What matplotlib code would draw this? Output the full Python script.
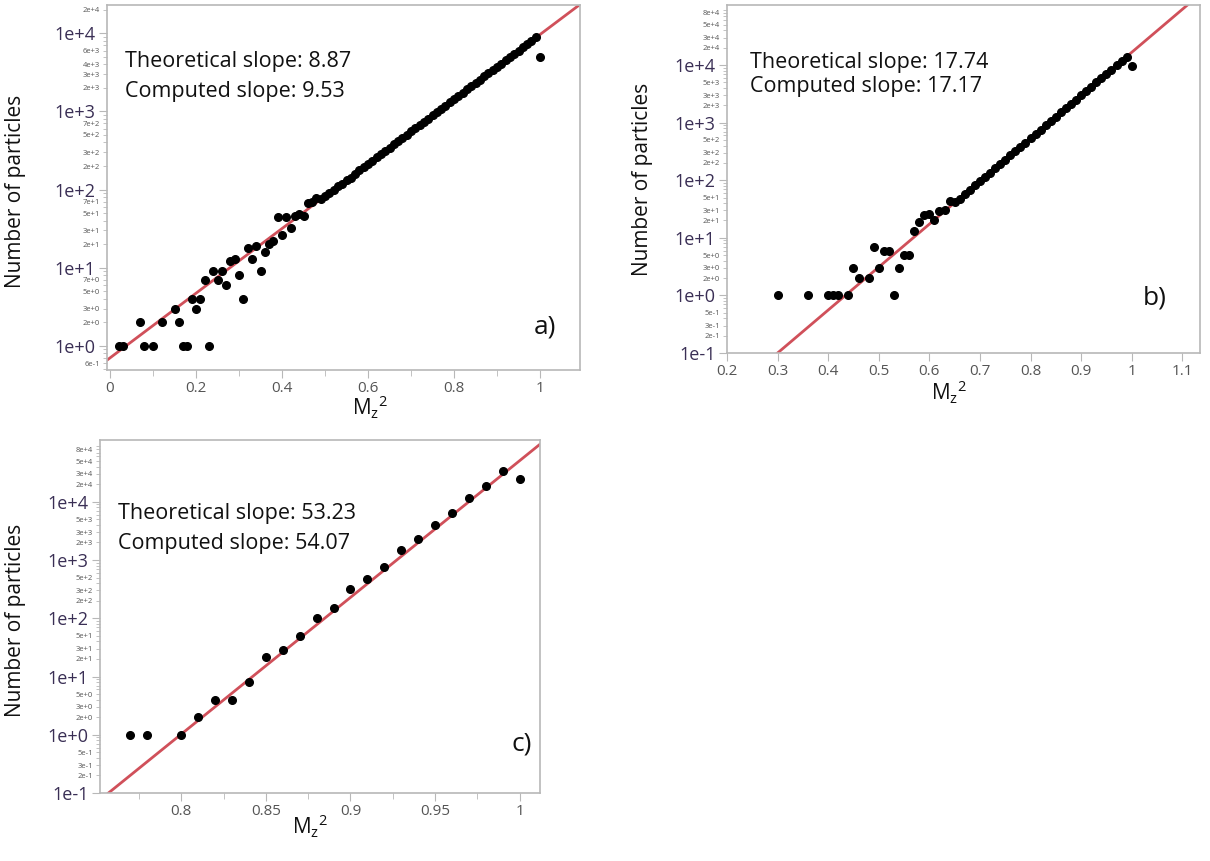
import numpy as np
import matplotlib
matplotlib.use("Agg")
import matplotlib.pyplot as plt
from matplotlib.ticker import FixedLocator, FuncFormatter

plt.rcParams["font.family"] = ["Open Sans", "DejaVu Sans"]

# ---- panel a) data ----
a_x = [0.02, 0.03, 0.07, 0.08, 0.10, 0.12, 0.15, 0.16, 0.17, 0.18, 0.19, 0.20,
       0.21, 0.22, 0.23, 0.24, 0.25, 0.26, 0.27, 0.28, 0.29, 0.30, 0.31, 0.32,
       0.33, 0.34, 0.35, 0.36, 0.37, 0.38, 0.39, 0.40, 0.41, 0.42, 0.43, 0.44,
       0.45, 0.46, 0.47, 0.48, 0.49, 0.50, 0.51, 0.52, 0.53, 0.54, 0.55, 0.56,
       0.57, 0.58, 0.59, 0.60, 0.61, 0.62, 0.63, 0.64, 0.65, 0.66, 0.67, 0.68,
       0.69, 0.70, 0.71, 0.72, 0.73, 0.74, 0.75, 0.76, 0.77, 0.78, 0.79, 0.80,
       0.81, 0.82, 0.83, 0.84, 0.85, 0.86, 0.87, 0.88, 0.89, 0.90, 0.91, 0.92,
       0.93, 0.94, 0.95, 0.96, 0.97, 0.98, 0.99, 1.00]
a_n = [1, 1, 2, 1, 1, 2, 3, 2, 1, 1, 4, 3,
       4, 7, 1, 9, 7, 9, 6, 12, 13, 8, 4, 18,
       13, 19, 9, 16, 20, 22, 44, 26, 44, 32, 46, 48,
       46, 68, 70, 79, 75, 82, 91, 100, 110, 118, 133, 140,
       160, 177, 194, 213, 235, 258, 284, 313, 344, 378, 416, 458,
       504, 554, 609, 670, 738, 811, 892, 981, 1079, 1187, 1306, 1436,
       1580, 1738, 1911, 2103, 2313, 2544, 2798, 3078, 3386, 3724, 4097, 4506,
       4957, 5453, 5998, 6598, 7258, 7983, 9000, 4900]
a_slope = 9.53          # computed slope (natural log)
a_n0 = 0.70             # fitted count at x = 0

# ---- panel b) data ----
b_x = [0.30, 0.36, 0.40, 0.41, 0.42, 0.44, 0.45, 0.46, 0.48, 0.49, 0.50, 0.51,
       0.52, 0.53, 0.54, 0.55, 0.56, 0.57, 0.58, 0.59, 0.60, 0.61, 0.62, 0.63,
       0.64, 0.65, 0.66, 0.67, 0.68, 0.69, 0.70, 0.71, 0.72, 0.73, 0.74, 0.75,
       0.76, 0.77, 0.78, 0.79, 0.80, 0.81, 0.82, 0.83, 0.84, 0.85, 0.86, 0.87,
       0.88, 0.89, 0.90, 0.91, 0.92, 0.93, 0.94, 0.95, 0.96, 0.97, 0.98, 0.99,
       1.00]
b_n = [1, 1, 1, 1, 1, 1, 3, 2, 2, 7, 3, 6,
       6, 1, 3, 5, 5, 13, 19, 25, 26, 20, 29, 30,
       43, 41, 48, 57, 68, 81, 96, 114, 135, 161, 191, 227,
       269, 320, 380, 451, 535, 635, 755, 896, 1063, 1262, 1499, 1779,
       2112, 2510, 2979, 3537, 4198, 4985, 5918, 7025, 8340, 9900, 11770, 13960,
       9600]
b_slope = 17.17
b_x0, b_nx0 = 0.30, 0.1   # line passes through (0.30, 0.1)

# ---- panel c) data ----
c_x = [0.77, 0.78, 0.80, 0.81, 0.82, 0.83, 0.84, 0.85, 0.86, 0.87, 0.88, 0.89,
       0.90, 0.91, 0.92, 0.93, 0.94, 0.95, 0.96, 0.97, 0.98, 0.99, 1.00]
c_n = [1, 1, 1, 2, 4, 4, 8, 22, 29, 49, 100, 148,
       316, 468, 755, 1480, 2300, 4000, 6500, 11700, 19000, 34000, 25000]
c_slope = 54.07
c_x0, c_nx0 = 0.757, 0.1

a_labels = ("Theoretical slope: 8.87", "Computed slope: 9.53")
b_labels = ("Theoretical slope: 17.74", "Computed slope: 17.17")
c_labels = ("Theoretical slope: 53.23", "Computed slope: 54.07")

a_minor_lab = [2e4, 6e3, 4e3, 3e3, 2e3, 7e2, 5e2, 3e2, 2e2, 70, 50, 30, 20, 7, 5, 3, 2, 0.6]
bc_minor_lab = [8e4, 5e4, 3e4, 2e4, 5e3, 3e3, 2e3, 500, 300, 200, 50, 30, 20,
                5, 3, 2, 0.5, 0.3, 0.2]

RED = "#d0505a"
SPINE = "#b8b8b8"


def sci(v):
    e = int(np.floor(np.log10(v) + 1e-9))
    m = int(round(v / 10 ** e))
    return f"{m}e{e:+d}"


def setup(ax, xlim, ylim, xmaj, xmin, majors, minor_lab):
    ax.set_yscale("log")
    ax.set_xlim(*xlim)
    ax.set_ylim(*ylim)
    for s in ax.spines.values():
        s.set_color(SPINE)
        s.set_linewidth(1.2)
    ax.xaxis.set_major_locator(FixedLocator(xmaj))
    ax.xaxis.set_minor_locator(FixedLocator(xmin))
    ax.xaxis.set_major_formatter(FuncFormatter(lambda v, p: f"{v:g}"))
    ax.yaxis.set_major_locator(FixedLocator(majors))
    ax.yaxis.set_major_formatter(FuncFormatter(lambda v, p: sci(v)))
    mins = [m * 10.0 ** e for e in range(-2, 6) for m in range(2, 10)]
    mins = [v for v in mins if ylim[0] <= v <= ylim[1]]
    ax.yaxis.set_minor_locator(FixedLocator(mins))
    labset = set(round(np.log10(v), 4) for v in minor_lab)
    ax.yaxis.set_minor_formatter(FuncFormatter(
        lambda v, p: sci(v) if round(np.log10(v), 4) in labset else ""))
    ax.tick_params(axis="both", which="both", direction="out", color=SPINE)
    ax.tick_params(axis="y", which="major", length=6, labelsize=13, labelcolor="#3a2f55", pad=2)
    ax.tick_params(axis="y", which="minor", length=3, labelsize=5.5, labelcolor="#555555", pad=2)
    ax.tick_params(axis="x", which="major", length=6, labelsize=11, labelcolor="#555555", pad=2)
    ax.tick_params(axis="x", which="minor", length=4)


def panel(ax, x, n, line_fn, labels, letter, ylab_pos, xlab_pos, txt_pos, let_pos):
    xs = np.linspace(*ax.get_xlim(), 200)
    ax.plot(xs, line_fn(xs), color=RED, lw=2.0, zorder=2)
    ax.plot(x, n, "o", color="black", ms=5.5, zorder=3)
    ax.set_ylabel("Number of particles", fontsize=15, color="#111111")
    ax.yaxis.set_label_coords(*ylab_pos)
    ax.set_xlabel(r"M$_\mathregular{z}$$^\mathregular{2}$", fontsize=15, color="#111111")
    ax.xaxis.set_label_coords(*xlab_pos)
    ax.text(txt_pos[0], txt_pos[1], labels[0], transform=ax.transAxes,
            fontsize=15.5, color="#111111", va="center")
    ax.text(txt_pos[0], txt_pos[2], labels[1], transform=ax.transAxes,
            fontsize=15.5, color="#111111", va="center")
    ax.text(let_pos[0], let_pos[1], letter, transform=ax.transAxes,
            fontsize=19, color="#111111", ha="center", va="center")


fig = plt.figure(figsize=(12.1, 8.61), dpi=100)

ax_a = fig.add_axes([107 / 1210, 1 - 370 / 861, 473 / 1210, 365 / 861])
setup(ax_a, (-0.007, 1.093), (0.49, 2.3e4),
      [0, 0.2, 0.4, 0.6, 0.8, 1.0], [0.1, 0.3, 0.5, 0.7, 0.9],
      [1, 10, 100, 1e3, 1e4], a_minor_lab)
panel(ax_a, a_x, a_n, lambda x: a_n0 * np.exp(a_slope * x), a_labels, "a)",
      (-0.171, 0.49), (0.556, -0.065), (0.038, 0.844, 0.764), (0.926, 0.118))

ax_b = fig.add_axes([727 / 1210, 1 - 353 / 861, 473 / 1210, 348 / 861])
setup(ax_b, (0.2, 1.135), (0.1, 1.1e5),
      [0.2, 0.3, 0.4, 0.5, 0.6, 0.7, 0.8, 0.9, 1.0, 1.1], [],
      [0.1, 1, 10, 100, 1e3, 1e4], bc_minor_lab)
panel(ax_b, b_x, b_n, lambda x: b_nx0 * np.exp(b_slope * (x - b_x0)), b_labels, "b)",
      (-0.156, 0.5), (0.47, -0.075), (0.049, 0.836, 0.767), (0.905, 0.158))

ax_c = fig.add_axes([100 / 1210, 1 - 793 / 861, 440 / 1210, 353 / 861])
setup(ax_c, (0.752, 1.012), (0.1, 1.15e5),
      [0.75, 0.8, 0.85, 0.9, 0.95, 1.0], [0.775, 0.825, 0.875, 0.925, 0.975],
      [0.1, 1, 10, 100, 1e3, 1e4], bc_minor_lab)
panel(ax_c, c_x, c_n, lambda x: c_nx0 * np.exp(c_slope * (x - c_x0)), c_labels, "c)",
      (-0.168, 0.49), (0.477, -0.057), (0.041, 0.793, 0.708), (0.959, 0.139))

fig.savefig("out.png", dpi=100)
